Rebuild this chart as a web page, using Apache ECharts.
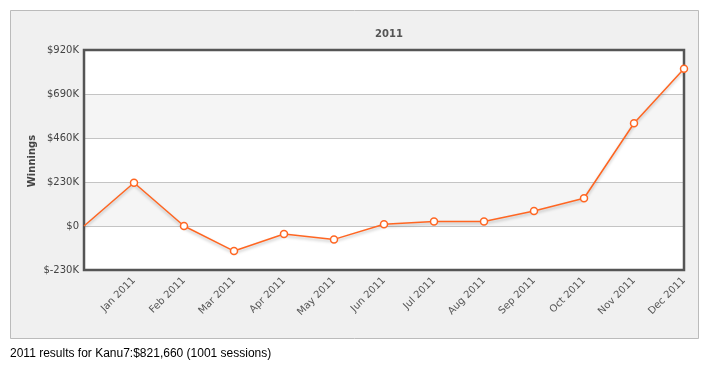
<!DOCTYPE html>
<html><head><meta charset="utf-8">
<script src="https://cdn.jsdelivr.net/npm/echarts@6/dist/echarts.min.js"></script>
<style>html,body{margin:0;padding:0;background:#fff}#c{width:705px;height:366px}</style>
</head><body><div id="c"></div>
<script>
var categories = ['', 'Jan 2011','Feb 2011','Mar 2011','Apr 2011','May 2011','Jun 2011','Jul 2011','Aug 2011','Sep 2011','Oct 2011','Nov 2011','Dec 2011'];
var winnings = [0, 226000, 0, -131000, -42000, -70000, 9000, 23000, 24000, 78000, 145000, 537000, 821660];
var yTicks = {min: -230000, max: 920000, interval: 230000};
var chartTitle = '2011';
var yName = 'Winnings';
var footer = '2011 results for Kanu7:$821,660 (1001 sessions)';

var chart = echarts.init(document.getElementById('c'));
var seriesData = winnings.map(function(v, i){
  return i === 0 ? {value: v, symbol: 'none'} : v;
});
chart.setOption({
  animation: false,
  graphic: [
    {type:'rect', shape:{x:10.5,y:10.5,width:688,height:328}, style:{fill:'#f0f0f0', stroke:'#bbbbbb', lineWidth:1}, z:-10},
    {type:'rect', shape:{x:84,y:50,width:600,height:220}, style:{fill:'none', stroke:'#555555', lineWidth:2.5}, z:3},
    {type:'text', x:32, y:161, rotation:Math.PI/2, style:{text:yName, font:'bold 10px "DejaVu Sans"', fill:'#444', align:'center', verticalAlign:'middle'}},
    {type:'text', left:10, top:348, style:{text:footer, font:'12px "Liberation Sans", Arial, sans-serif', fill:'#000'}}
  ],
  title: {text: chartTitle, left: 384, top: 24, textAlign:'center',
    textStyle:{fontFamily:'DejaVu Sans', fontSize:10, fontWeight:'bold', color:'#555'}},
  grid: {left:84, top:50, width:600, height:220, show:false, containLabel:false},
  xAxis: {type:'category', data:categories, boundaryGap:false,
    axisLine:{show:false}, axisTick:{show:false},
    axisLabel:{rotate:45, margin:9, interval:0, fontFamily:'DejaVu Sans', fontSize:10, color:'#555'}},
  yAxis: {type:'value', min:yTicks.min, max:yTicks.max, interval:yTicks.interval,
    axisLine:{show:false}, axisTick:{show:false},
    axisLabel:{margin:5, fontFamily:'DejaVu Sans', fontSize:10, color:'#444', formatter:function(v){return v===0 ? '$0' : '$'+(v/1000)+'K';}},
    splitLine:{lineStyle:{color:'#c4c4c4', width:1}},
    splitArea:{show:true, areaStyle:{color:['#ffffff','#f5f5f5']}}},
  series: [{type:'line', data:seriesData, symbol:'circle', symbolSize:7, z:5,
    lineStyle:{color:'#ff6622', width:1.5, shadowColor:'rgba(0,0,0,0.25)', shadowBlur:3, shadowOffsetY:2},
    itemStyle:{color:'#ffffff', borderColor:'#ff6622', borderWidth:1.5}}]
});
</script></body></html>
